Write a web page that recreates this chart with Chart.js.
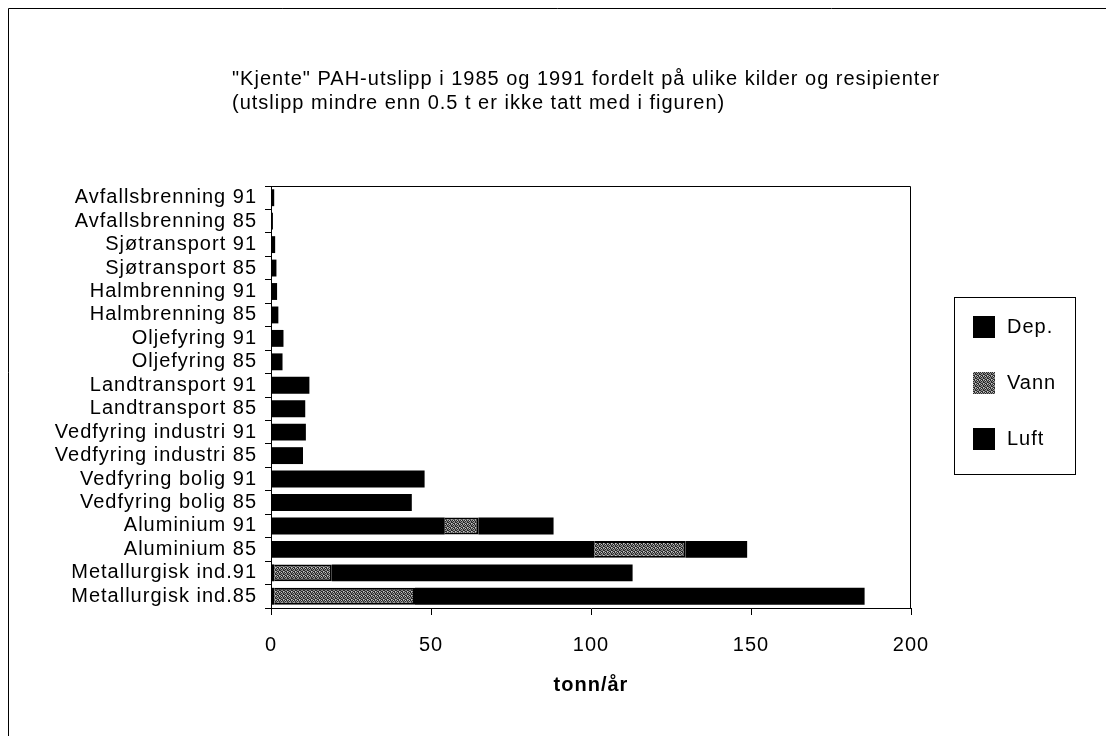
<!DOCTYPE html>
<html>
<head>
<meta charset="utf-8">
<script src="https://cdn.jsdelivr.net/npm/chart.js@4.4.0/dist/chart.umd.min.js"></script>
<style>
  body { margin: 0; background: #fff; }
  #wrap { width: 1106px; height: 736px; }
</style>
</head>
<body>
<div id="wrap"><canvas id="pah" width="1106" height="736"></canvas></div>
<script>
// kategorier, ovenfra og ned slik de står i figuren
const categories = [
  'Avfallsbrenning 91', 'Avfallsbrenning 85',
  'Sjøtransport 91', 'Sjøtransport 85',
  'Halmbrenning 91', 'Halmbrenning 85',
  'Oljefyring 91', 'Oljefyring 85',
  'Landtransport 91', 'Landtransport 85',
  'Vedfyring industri 91', 'Vedfyring industri 85',
  'Vedfyring bolig 91', 'Vedfyring bolig 85',
  'Aluminium 91', 'Aluminium 85',
  'Metallurgisk ind.91', 'Metallurgisk ind.85'
];
// tonn/år
const dep  = [0, 0, 0, 0, 0, 0, 0, 0, 0, 0, 0, 0, 0, 0, 54.3, 101, 1, 1];
const vann = [0, 0, 0, 0, 0, 0, 0, 0, 0, 0, 0, 0, 0, 0, 10.5, 28.5, 18, 44];
const luft = [1.0, 0.6, 1.3, 1.7, 1.9, 2.3, 3.9, 3.6, 12, 10.7, 10.9, 10, 48, 44, 23.5, 19.3, 94, 140.5];
const xTicks = [0, 50, 100, 150, 200];
const seriesNames = ['Dep.', 'Vann', 'Luft'];
const titleLines = [
  '"Kjente" PAH-utslipp i 1985 og 1991 fordelt på ulike kilder og resipienter',
  '(utslipp mindre enn 0.5 t er ikke tatt med i figuren)'
];

const FONT = '"Liberation Sans", Arial, Helvetica, sans-serif';
Chart.defaults.font.family = FONT;
Chart.defaults.color = '#000';

// prikket grått mønster for Vann
function dots() {
  const c = document.createElement('canvas');
  c.width = 4; c.height = 4;
  const g = c.getContext('2d');
  g.fillStyle = '#8c8c8c';
  g.fillRect(0, 0, 4, 4);
  g.fillStyle = '#2a2a2a';
  [[0,0],[2,0],[1,1],[3,2],[0,2],[2,3],[1,3],[3,1]].forEach(p => g.fillRect(p[0], p[1], 1, 1));
  g.fillStyle = '#c8c8c8';
  [[1,0],[3,3]].forEach(p => g.fillRect(p[0], p[1], 1, 1));
  return g.createPattern(c, 'repeat');
}
const vannFill = dots();
const fills = ['#000', vannFill, '#000'];

// gammel Mac-tekst er litt sperret
const spacing = {
  id: 'spacing',
  beforeDraw(chart) { chart.ctx.letterSpacing = '1px'; }
};

// ramme, plottboks, tittel og forklaring
const extras = {
  id: 'extras',
  afterDraw(chart) {
    const ctx = chart.ctx;
    const a = chart.chartArea;
    ctx.save();
    ctx.letterSpacing = '1px';
    ctx.strokeStyle = '#000';
    ctx.lineWidth = 1;
    ctx.beginPath();
    ctx.moveTo(8.5, 736); ctx.lineTo(8.5, 8.5); ctx.lineTo(1106, 8.5);
    ctx.moveTo(Math.round(a.left) + 0.5, Math.round(a.top) + 0.5);
    ctx.lineTo(Math.round(a.right) - 0.5, Math.round(a.top) + 0.5);
    ctx.lineTo(Math.round(a.right) - 0.5, Math.round(a.bottom));
    ctx.stroke();

    ctx.fillStyle = '#000';
    ctx.font = '20px ' + FONT;
    ctx.textBaseline = 'middle';
    ctx.textAlign = 'left';
    titleLines.forEach((t, i) => ctx.fillText(t, 232, 79 + i * 24));

    // forklaring
    ctx.strokeRect(954.5, 297.5, 121, 177);
    seriesNames.forEach((name, i) => {
      const cy = 327 + i * 56;
      ctx.fillStyle = fills[i];
      ctx.fillRect(973, cy - 11, 22, 22);
      ctx.fillStyle = '#000';
      ctx.fillText(name, 1007, cy);
    });
    ctx.restore();
  }
};

new Chart(document.getElementById('pah'), {
  type: 'bar',
  data: {
    labels: categories,
    datasets: [
      { label: seriesNames[0], data: dep, backgroundColor: fills[0], borderWidth: 0 },
      { label: seriesNames[1], data: vann, backgroundColor: fills[1], borderColor: '#000', borderWidth: 2 },
      { label: seriesNames[2], data: luft, backgroundColor: fills[2], borderWidth: 0 }
    ]
  },
  options: {
    indexAxis: 'y',
    responsive: false,
    animation: false,
    barPercentage: 0.72,
    categoryPercentage: 1,
    layout: { padding: { left: 0, top: 186, right: 195, bottom: 0 } },
    plugins: {
      legend: { display: false },
      title: { display: false },
      tooltip: { enabled: false }
    },
    scales: {
      x: {
        stacked: true,
        min: 0, max: 200,
        afterBuildTicks(s) { s.ticks = xTicks.map(v => ({ value: v })); },
        ticks: { color: '#000', font: { size: 20 }, padding: 18 },
        grid: { drawOnChartArea: false, color: '#000', tickLength: 7 },
        border: { color: '#000' },
        title: { display: true, text: 'tonn/år', color: '#000', font: { size: 20, weight: 'bold' }, padding: { top: 0, bottom: 39 } },
        afterFit(s) { s.height = 128; }
      },
      y: {
        stacked: true,
        ticks: { color: '#000', font: { size: 20 }, padding: 8, autoSkip: false },
        grid: { offset: true, drawOnChartArea: false, color: '#000', tickLength: 6 },
        border: { color: '#000' },
        afterFit(s) { s.width = 271; }
      }
    }
  },
  plugins: [spacing, extras]
});
</script>
</body>
</html>
